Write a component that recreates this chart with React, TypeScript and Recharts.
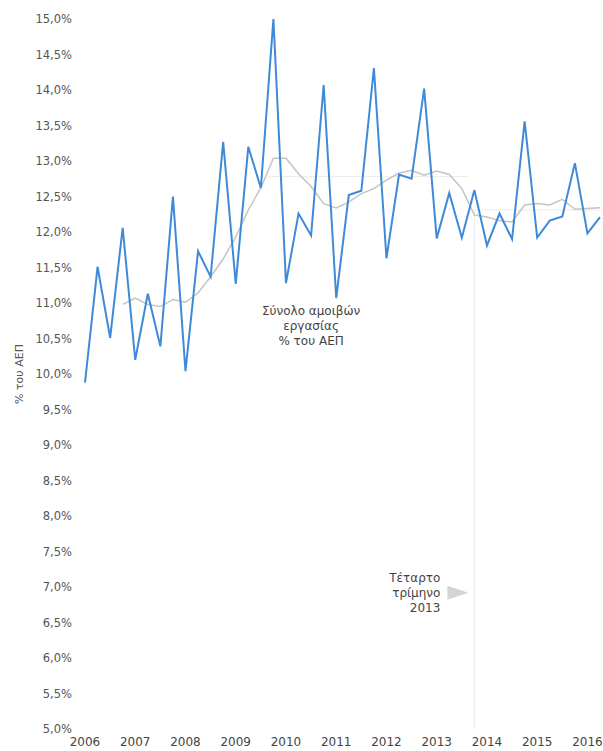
import React from 'react';
import { LineChart, Line, XAxis, YAxis, ReferenceLine, ReferenceDot } from 'recharts';

const quarters = [
  '2006 Q1', '2006 Q2', '2006 Q3', '2006 Q4',
  '2007 Q1', '2007 Q2', '2007 Q3', '2007 Q4',
  '2008 Q1', '2008 Q2', '2008 Q3', '2008 Q4',
  '2009 Q1', '2009 Q2', '2009 Q3', '2009 Q4',
  '2010 Q1', '2010 Q2', '2010 Q3', '2010 Q4',
  '2011 Q1', '2011 Q2', '2011 Q3', '2011 Q4',
  '2012 Q1', '2012 Q2', '2012 Q3', '2012 Q4',
  '2013 Q1', '2013 Q2', '2013 Q3', '2013 Q4',
  '2014 Q1', '2014 Q2', '2014 Q3', '2014 Q4',
  '2015 Q1', '2015 Q2', '2015 Q3', '2015 Q4',
  '2016 Q1', '2016 Q2',
];

const compensation = [
  9.88, 11.51, 10.51, 12.06,
  10.20, 11.13, 10.39, 12.50,
  10.04, 11.73, 11.37, 13.27,
  11.27, 13.20, 12.62, 15.00,
  11.28, 12.26, 11.95, 14.07,
  11.07, 12.52, 12.58, 14.31,
  11.63, 12.81, 12.75, 14.02,
  11.91, 12.55, 11.92, 12.59,
  11.81, 12.26, 11.90, 13.56,
  11.92, 12.16, 12.22, 12.97,
  11.98, 12.21,
];

const movingAverage: (number | null)[] = [
  null, null, null, 10.98,
  11.07, 10.98, 10.95, 11.05,
  11.01, 11.14, 11.37, 11.62,
  11.93, 12.31, 12.62, 13.04,
  13.04, 12.82, 12.64, 12.40,
  12.34, 12.42, 12.54, 12.61,
  12.73, 12.83, 12.87, 12.80,
  12.86, 12.81, 12.61, 12.24,
  12.21, 12.16, 12.14, 12.38,
  12.40, 12.38, 12.46, 12.32,
  12.33, 12.34,
];

const years = ['2006', '2007', '2008', '2009', '2010', '2011', '2012', '2013', '2014', '2015', '2016'];
const yearTickIndex = [0, 4, 8, 12, 16, 20, 24, 28, 32, 36, 40];
const yTicks = [5, 5.5, 6, 6.5, 7, 7.5, 8, 8.5, 9, 9.5, 10, 10.5, 11, 11.5, 12, 12.5, 13, 13.5, 14, 14.5, 15];

const avgBefore = 12.78;
const avgBeforeStart = 14.6;
const avgBeforeEnd = 30.5;
const avgAfter = 12.31;
const markerQuarter = 31; // 2013 Q4
const lastQuarter = 41;

const seriesLabel = ['Σύνολο αμοιβών', 'εργασίας', '% του ΑΕΠ'];
const markerLabel = ['Τέταρτο', 'τρίμηνο', '2013'];

const data = quarters.map((q, i) => ({
  idx: i,
  quarter: q,
  value: compensation[i],
  ma: movingAverage[i],
}));

const FONT = '"DejaVu Sans", sans-serif';

const fmtPct = (v: number) => v.toFixed(1).replace('.', ',') + '%';

const YLabel = (props: any) => {
  const vb = props.viewBox || { x: 0, y: 0, width: 0, height: 0 };
  const x = vb.x + 19;
  const y = vb.y + vb.height / 2;
  return (
    <text
      x={x}
      y={y}
      transform={`rotate(-90 ${x} ${y})`}
      textAnchor="middle"
      dominantBaseline="central"
      fontSize={11}
      fontFamily={FONT}
      fill="#555"
    >
      % του ΑΕΠ
    </text>
  );
};

const SeriesNote = (props: any) => {
  const { cx, cy } = props;
  return (
    <g>
      {seriesLabel.map((t, i) => (
        <text
          key={i}
          x={cx}
          y={cy + (i - 1) * 15}
          textAnchor="middle"
          dominantBaseline="central"
          fontSize={12}
          fontFamily={FONT}
          fill="#444"
        >
          {t}
        </text>
      ))}
    </g>
  );
};

const MarkerNote = (props: any) => {
  const { cx, cy } = props;
  return (
    <g>
      <polygon
        points={`${cx - 27},${cy - 7} ${cx - 27},${cy + 7} ${cx - 6},${cy}`}
        fill="#d4d4d4"
      />
      {markerLabel.map((t, i) => (
        <text
          key={i}
          x={cx - 34}
          y={cy + (i - 1) * 15}
          textAnchor="end"
          dominantBaseline="central"
          fontSize={12}
          fontFamily={FONT}
          fill="#444"
        >
          {t}
        </text>
      ))}
    </g>
  );
};

export default function App() {
  return (
    <div style={{ position: 'absolute', left: 0, top: 0, background: '#fff' }}>
      <LineChart
        width={603}
        height={751}
        data={data}
        margin={{ top: 19, right: 3, bottom: 0, left: 0 }}
      >
        <XAxis
          dataKey="idx"
          type="number"
          domain={[0, lastQuarter]}
          ticks={yearTickIndex}
          interval={0}
          tickFormatter={(v: number) => years[Math.round(v / 4)]}
          axisLine={false}
          tickLine={false}
          height={22}
          tick={{ fontSize: 12, fontFamily: FONT, fill: '#444' }}
        />
        <YAxis
          type="number"
          domain={[5, 15]}
          ticks={yTicks}
          interval={0}
          tickFormatter={fmtPct}
          axisLine={false}
          tickLine={false}
          width={85}
          tickMargin={7}
          tick={{ fontSize: 11.5, fontFamily: FONT, fill: '#555' }}
          label={{ content: YLabel }}
        />
        <ReferenceLine
          segment={[{ x: avgBeforeStart, y: avgBefore }, { x: avgBeforeEnd, y: avgBefore }]}
          stroke="#ebebeb"
          strokeWidth={1}
        />
        <ReferenceLine
          segment={[{ x: markerQuarter, y: avgAfter }, { x: lastQuarter, y: avgAfter }]}
          stroke="#ebebeb"
          strokeWidth={1}
        />
        <ReferenceLine
          segment={[{ x: markerQuarter, y: 5 }, { x: markerQuarter, y: avgAfter }]}
          stroke="#ebebeb"
          strokeWidth={1}
        />
        <Line
          type="linear"
          dataKey="ma"
          stroke="#c4c4c4"
          strokeWidth={1.5}
          dot={false}
          activeDot={false}
          connectNulls={false}
          isAnimationActive={false}
        />
        <Line
          type="linear"
          dataKey="value"
          stroke="#3f8ad8"
          strokeWidth={2}
          dot={false}
          activeDot={false}
          isAnimationActive={false}
        />
        <ReferenceDot x={18} y={10.68} r={0} shape={SeriesNote} />
        <ReferenceDot x={markerQuarter} y={6.92} r={0} shape={MarkerNote} />
      </LineChart>
    </div>
  );
}
